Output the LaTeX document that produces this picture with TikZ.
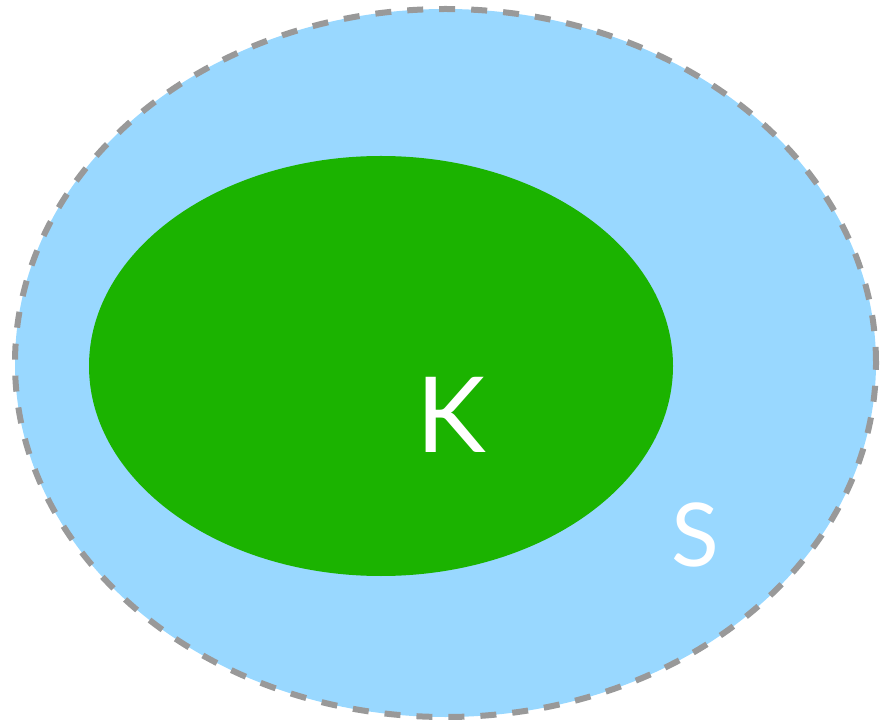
\documentclass[tikz,border=0pt]{standalone}
\usepackage{fontspec}
\setmainfont{Lato}
\definecolor{skyfill}{HTML}{99D8FF}
\definecolor{setgreen}{HTML}{1BB300}
\definecolor{dashgray}{HTML}{999999}
\begin{document}
\begin{tikzpicture}[x=1pt,y=1pt,
  outerset/.style={fill=skyfill,draw=dashgray,line width=6pt,dash pattern=on 16pt off 16pt},
  innerset/.style={fill=setgreen},
  setlabel/.style={text=white,inner sep=0pt}]
\useasboundingbox (0,0) rectangle (880,726);
\path[outerset] (445.5,363) ellipse [x radius=430.5, y radius=354];
\path[innerset] (381,360) ellipse [x radius=292, y radius=210];
\node[setlabel,font=\fontsize{105}{105}\selectfont] (K) at (451,311) {K};
\node[setlabel,font=\fontsize{88}{88}\selectfont] (S) at (695,191) {S};
\end{tikzpicture}
\end{document}
